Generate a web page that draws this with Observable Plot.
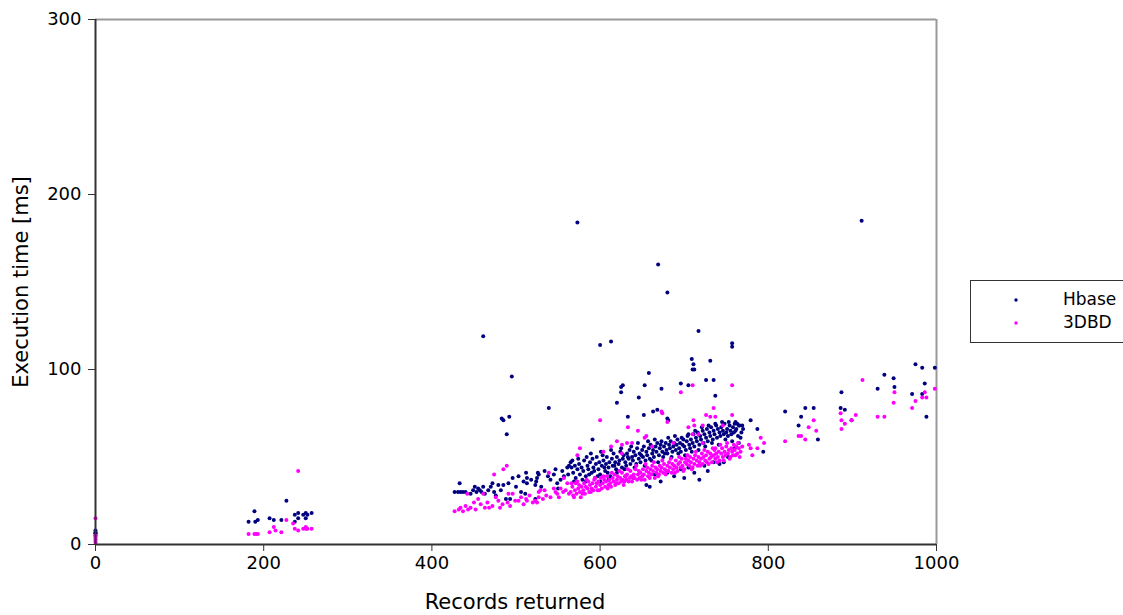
<!DOCTYPE html>
<html>
<head>
<meta charset="utf-8">
<script src="https://cdn.jsdelivr.net/npm/d3@7"></script>
<script src="https://cdn.jsdelivr.net/npm/@observablehq/plot@0.6"></script>
<style>
  html, body { margin: 0; padding: 0; background: #fff; }
  #chart { width: 1123px; height: 615px; }
</style>
</head>
<body>
<div id="chart"></div>
<script>
// ---- Data: [records returned, execution time ms] ----
const xTicks = [0, 200, 400, 600, 800, 1000];
const yTicks = [0, 100, 200, 300];
const seriesNames = ["Hbase", "3DBD"];
const seriesColors = ["#000080", "#ff00ff"];

const hbaseZero = [[0,5],[0,6],[0,6.5],[0,7],[0,8]];
const hbaseSmall = [[189,19],[182,13],[190,13],[193,14],[227,25],[207,15],[212,14],[221,14],[237,13],[237,17],[241,18],[241,15],[247,17],[250,18],[252,17],[250,15],[257,18]];
const hbaseLow = [[427,30],[431,30],[434,30],[437,30],[440,30],[433,35],[446,29],[449,31],[451,33],[453,30],[455,32],[457,31],[459,30],[461,33],[463,29],[467,31],[470,33],[472,35],[474,30],[476,28],[479,34],[482,31],[485,34],[488,26],[493,26],[491,35],[496,38],[500,33],[503,39],[506,30],[509,36],[512,41],[513,38],[513,35],[511,29],[518,37],[523,26],[523,34],[524,36],[525,38],[526,41],[527,40],[530,33],[534,42],[538,39],[541,37],[545,40],[547,43],[549,35],[553,37],[555,42],[557,39],[561,44],[563,45],[550,32]];
const hbaseMain = [[565,47],[566,44],[568,41],[570,45],[571,38],[573,43],[575,46],[576,40],[578,44],[580,42],[581,48],[583,39],[585,45],[586,43],[588,47],[590,41],[591,49],[592,44],[594,38],[595,46],[596,50],[598,43],[599,47],[600,40],[602,45],[603,51],[604,48],[606,42],[607,46],[608,50],[610,44],[611,47],[612,39],[614,49],[615,45],[616,52],[618,47],[619,43],[620,50],[622,46],[623,48],[624,53],[626,44],[627,49],[628,51],[630,47],[631,45],[632,52],[634,49],[635,54],[636,46],[638,50],[639,48],[640,53],[642,51],[643,46],[644,55],[646,49],[647,52],[648,47],[650,54],[651,50],[652,56],[654,48],[655,53],[656,51],[658,55],[659,49],[660,57],[662,52],[663,54],[664,50],[666,56],[667,53],[668,58],[670,51],[671,55],[672,57],[674,53],[675,50],[676,56],[678,58],[679,54],[680,52],[682,57],[683,55],[684,59],[686,53],[687,56],[688,58],[690,54],[691,57],[692,60],[694,55],[695,58],[696,53],[698,57],[699,60],[700,56],[702,54],[703,59],[704,62],[706,57],[707,55],[708,60],[710,58],[711,63],[712,56],[714,61],[715,59],[716,64],[718,57],[719,62],[720,60],[722,65],[723,58],[724,63],[726,61],[727,66],[728,59],[730,64],[731,62],[732,67],[734,60],[735,65],[736,63],[738,68],[739,61],[740,66],[742,64],[743,62],[744,67],[746,65],[747,63],[748,69],[750,64],[751,66],[752,62],[754,68],[755,65],[756,63],[758,67],[759,64],[760,69],[762,66],[764,62],[766,68],[768,64],[770,66],
  [583,36],[600,36],[610,37],[620,41],[630,39],[640,38],[655,34],[659,33],[665,40],[672,36],[680,41],[688,39],[696,43],[700,38],[705,44],[712,41],[718,37],[724,45],[728,42],[735,47],[742,46],[747,47],[752,50],[760,55],[765,58]];
const hbaseMain2 = [[562,40],[567,48],[569,36],[574,49],[579,37],[584,50],[587,40],[589,52],[593,42],[597,39],[601,53],[605,44],[609,41],[613,54],[617,45],[621,42],[625,55],[629,43],[633,50],[637,56],[641,44],[645,58],[649,51],[653,45],[657,59],[661,48],[665,60],[669,47],[673,59],[677,52],[681,61],[685,50],[689,62],[693,52],[697,61],[701,51],[705,63],[709,53],[713,65],[717,54],[721,67],[725,56],[729,68],[733,58],[737,69],[741,57],[745,70],[749,60],[753,70],[757,59],[761,65],[763,69],[767,61],[769,68]];
const hbaseHigh = [[573,184],[911,185],[669,160],[680,144],[461,119],[717,122],[600,114],[613,116],[757,115],[757,113],[709,106],[711,103],[710,100],[712,100],[731,105],[726,94],[735,94],[737,85],[696,92],[705,91],[673,89],[658,98],[653,91],[627,91],[625,90],[625,87],[646,84],[620,81],[633,73],[652,74],[663,76],[668,77],[681,71],[779,71],[539,78],[483,72],[485,71],[492,73],[489,63],[495,96],[591,60],[680,72],[787,66],[794,53],[761,70],[765,68]];
const hbaseRight = [[820,76],[844,78],[854,78],[839,73],[836,68],[859,60],[887,87],[886,78],[891,77],[899,71],[930,89],[938,97],[949,95],[950,90],[975,103],[983,101],[998,101],[986,92],[971,86],[983,86],[988,73]];

const dbdZero = [[0,15],[0,1],[0,2],[0,3],[0,4],[0,5]];
const dbdSmall = [[241,42],[182,6],[189,6],[191,6],[193,6],[207,7],[212,10],[214,8],[221,7],[227,14],[235,12],[237,9],[241,8],[247,9],[250,9],[252,9],[257,9],[250,10]];
const dbdLow = [[427,19],[432,20],[434,21],[437,19],[440,22],[443,20],[446,21],[442,29],[450,24],[452,20],[455,26],[458,23],[461,29],[463,21],[466,24],[468,21],[472,22],[474,40],[476,27],[479,25],[481,21],[484,23],[485,43],[489,45],[490,24],[491,29],[493,22],[496,29],[499,25],[503,25],[506,27],[509,23],[512,26],[513,25],[516,28],[520,24],[523,25],[525,24],[527,27],[527,30],[529,31],[532,26],[534,31],[536,28],[539,41],[541,27],[545,32],[547,30],[549,29],[551,27],[553,32],[556,30],[557,38],[559,31],[561,35],[563,29]];
const dbdMain = [[565,30],[567,33],[568,28],[570,31],[571,35],[572,29],[574,32],[575,34],[576,30],[577,27],[578,33],[580,31],[581,35],[582,29],[583,33],[585,32],[586,36],[587,30],[588,34],[590,32],[591,35],[592,31],[593,37],[595,33],[596,35],[597,31],[598,36],[600,34],[601,38],[602,32],[603,35],[605,37],[606,33],[607,36],[608,39],[610,34],[611,37],[612,35],[613,33],[615,38],[616,36],[617,40],[618,34],[620,37],[621,39],[622,35],[624,38],[625,36],[626,41],[627,37],[628,34],[630,39],[631,37],[632,40],[634,36],[635,38],[636,42],[637,39],[638,36],[640,40],[641,38],[642,43],[644,37],[645,40],[646,42],[647,38],[648,41],[650,39],[651,43],[652,40],[653,37],[655,42],[656,44],[657,39],[658,41],[660,43],[661,40],[662,45],[663,42],[665,38],[666,44],[667,41],[668,43],[670,40],[671,45],[672,42],[673,44],[675,41],[676,46],[677,43],[678,40],[680,45],[681,42],[682,47],[683,44],[685,41],[686,46],[687,43],[688,45],[690,48],[691,44],[692,42],[693,46],[695,47],[696,44],[697,49],[698,45],[700,43],[701,47],[702,49],[703,46],[705,48],[706,45],[707,50],[708,47],[710,44],[711,49],[712,46],[713,51],[715,48],[716,45],[717,50],[718,47],[720,49],[721,52],[722,46],[723,50],[725,48],[726,51],[727,47],[728,53],[730,49],[731,52],[732,50],[733,47],[735,51],[736,54],[737,49],[738,52],[740,50],[741,53],[742,48],[744,52],[745,55],[746,50],[748,53],[749,51],[750,56],[752,52],[753,54],[755,50],[756,55],[757,53],[758,51],[760,54],[762,56],[763,52],[765,55],[767,53]];
const dbdMain2 = [[566,35],[569,27],[573,36],[579,29],[584,37],[589,30],[594,38],[599,31],[604,39],[609,32],[614,41],[619,35],[623,42],[629,36],[633,43],[639,38],[643,45],[649,37],[654,46],[659,38],[664,47],[669,39],[674,48],[679,42],[684,49],[689,41],[694,50],[699,42],[704,51],[709,43],[714,53],[719,45],[724,54],[729,46],[734,55],[739,47],[743,57],[747,48],[751,58],[754,49],[759,57],[761,51],[764,58],[766,50],[769,56]];
const dbdHigh = [[576,55],[573,51],[600,71],[633,67],[645,65],[653,61],[655,62],[620,59],[613,56],[626,57],[632,58],[638,58],[662,56],[604,53],[626,52],[687,58],[735,78],[726,74],[731,73],[737,73],[757,74],[711,71],[712,68],[705,67],[722,68],[680,70],[674,75],[710,63],[717,63],[746,68],[791,61],[795,58],[777,57],[779,55],[787,55],[781,51],[722,58],[737,55],[710,91],[696,87],[757,91],[673,76]];
const dbdRight = [[820,59],[854,71],[848,67],[857,65],[836,62],[839,62],[844,60],[886,75],[887,71],[891,69],[887,66],[899,71],[904,74],[912,94],[930,73],[938,73],[949,81],[950,87],[971,78],[975,82],[983,84],[986,87],[988,84],[998,89]];

const hbase = [...hbaseZero, ...hbaseSmall, ...hbaseLow, ...hbaseMain, ...hbaseMain2, ...hbaseHigh, ...hbaseRight];
const dbd = [...dbdZero, ...dbdSmall, ...dbdLow, ...dbdMain, ...dbdMain2, ...dbdHigh, ...dbdRight];

const plot = Plot.plot({
  width: 1123,
  height: 615,
  marginLeft: 95,
  marginRight: 187,
  marginTop: 19,
  marginBottom: 71,
  style: { fontFamily: "DejaVu Sans", fontSize: "18px", background: "#fff", color: "#000" },
  x: { domain: [0, 1000] },
  y: { domain: [0, 300] },
  marks: [
    Plot.ruleY([300], { stroke: "#999", strokeWidth: 2 }),
    Plot.ruleX([1000], { stroke: "#999", strokeWidth: 2 }),
    Plot.dot(hbase, { x: d => d[0], y: d => d[1], r: 2, fill: seriesColors[0], stroke: "none" }),
    Plot.dot(dbd, { x: d => d[0], y: d => d[1], r: 2, fill: seriesColors[1], stroke: "none" }),
    Plot.ruleX([0], { stroke: "#333", strokeWidth: 2 }),
    Plot.ruleY([0], { stroke: "#333", strokeWidth: 2 }),
    Plot.axisY({ ticks: yTicks, tickFormat: d3.format("d"), tickSize: 7, tickPadding: 7, label: null, stroke: "#333", fontSize: 18 }),
    Plot.axisX({ ticks: xTicks, tickFormat: d3.format("d"), tickSize: 7, tickPadding: 5, label: null, stroke: "#333", fontSize: 18 })
  ]
});

document.getElementById("chart").appendChild(plot);

const svg = d3.select(plot);
// axis titles
svg.append("text")
  .attr("transform", "translate(22,282) rotate(-90)")
  .attr("text-anchor", "middle")
  .attr("dominant-baseline", "middle")
  .style("font-family", "DejaVu Sans").style("font-size", "21px").attr("fill", "#000")
  .text("Execution time [ms]");
svg.append("text")
  .attr("x", 515).attr("y", 603)
  .attr("text-anchor", "middle")
  .attr("dominant-baseline", "middle")
  .style("font-family", "DejaVu Sans").style("font-size", "21px").attr("fill", "#000")
  .text("Records returned");

// legend
const lg = svg.append("g");
lg.append("rect").attr("x", 970.5).attr("y", 280.5).attr("width", 170).attr("height", 62)
  .attr("fill", "#fff").attr("stroke", "#333").attr("stroke-width", 1);
seriesNames.forEach((name, i) => {
  lg.append("circle").attr("cx", 1016).attr("cy", 300 + i * 23).attr("r", 1.7).attr("fill", seriesColors[i]);
  lg.append("text").attr("x", 1063).attr("y", 300 + i * 23)
    .attr("text-anchor", "start")
    .attr("dominant-baseline", "middle")
    .style("font-family", "DejaVu Sans").style("font-size", "17px").attr("fill", "#000")
    .text(name);
});
</script>
</body>
</html>
